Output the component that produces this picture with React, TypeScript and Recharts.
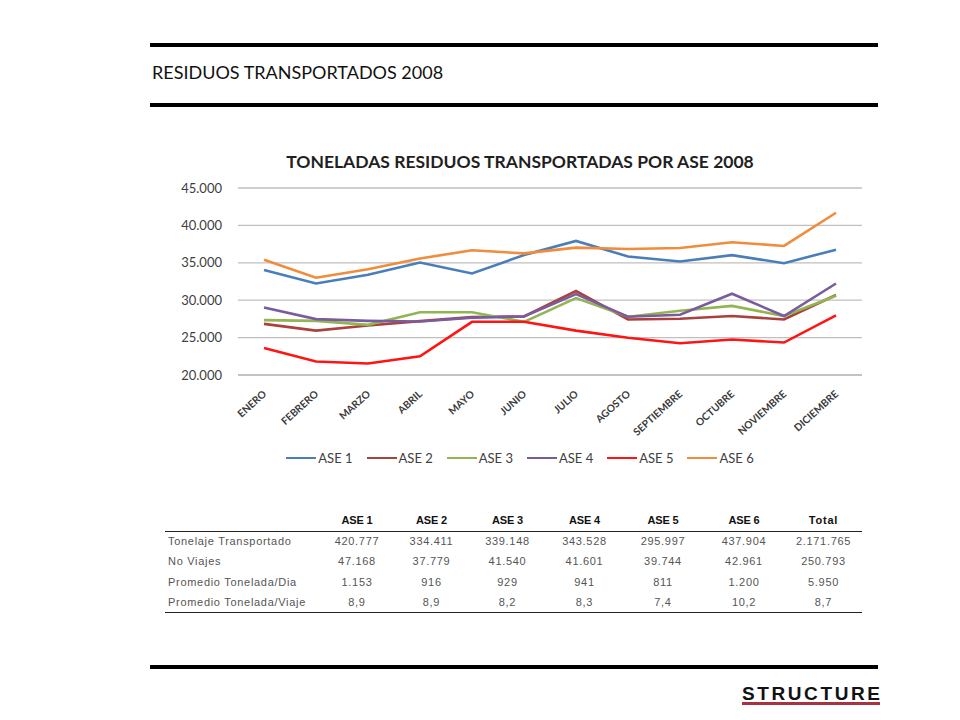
import React from "react";
import { LineChart, Line, XAxis, YAxis, CartesianGrid, Legend } from "recharts";

const MONTHS = ["ENERO", "FEBRERO", "MARZO", "ABRIL", "MAYO", "JUNIO", "JULIO", "AGOSTO", "SEPTIEMBRE", "OCTUBRE", "NOVIEMBRE", "DICIEMBRE"];

const ASE1 = [34040, 32230, 33400, 35030, 33580, 36030, 37930, 35850, 35170, 36030, 34940, 36760];
const ASE2 = [26840, 25930, 26610, 27200, 27740, 27830, 31230, 27420, 27510, 27880, 27420, 30690];
const ASE3 = [27330, 27240, 26700, 28380, 28380, 27110, 30280, 27790, 28600, 29240, 27880, 30600];
const ASE4 = [29010, 27470, 27240, 27150, 27650, 27830, 30820, 27790, 28060, 30870, 27880, 32230];
const ASE5 = [23620, 21810, 21540, 22490, 27110, 27110, 25930, 24980, 24250, 24750, 24340, 27970];
const ASE6 = [35400, 33000, 34130, 35580, 36670, 36260, 37030, 36850, 36980, 37750, 37250, 41690];

const SERIES = ["ASE 1", "ASE 2", "ASE 3", "ASE 4", "ASE 5", "ASE 6"];
const SERIES_VALUES = [ASE1, ASE2, ASE3, ASE4, ASE5, ASE6];
const COLORS = ["#4A7EBB", "#A9423F", "#92B552", "#7A5C9E", "#FF1414", "#F08C3C"];
const Y_TICKS = [20000, 25000, 30000, 35000, 40000, 45000];

const TABLE_HEAD = ["", "ASE 1", "ASE 2", "ASE 3", "ASE 4", "ASE 5", "ASE 6", "Total"];
const TABLE_ROWS = [
  ["Tonelaje Transportado", "420.777", "334.411", "339.148", "343.528", "295.997", "437.904", "2.171.765"],
  ["No Viajes", "47.168", "37.779", "41.540", "41.601", "39.744", "42.961", "250.793"],
  ["Promedio Tonelada/Dia", "1.153", "916", "929", "941", "811", "1.200", "5.950"],
  ["Promedio Tonelada/Viaje", "8,9", "8,9", "8,2", "8,3", "7,4", "10,2", "8,7"],
];
const COL_WIDTHS = [155, 74, 75, 77, 77, 80, 82, 77];

const data = MONTHS.map((m, i) => {
  const row: Record<string, any> = { month: m };
  SERIES.forEach((s, k) => { row[s] = SERIES_VALUES[k][i]; });
  return row;
});

const fmt = (v: number) => String(v).replace(/\B(?=(\d{3})+(?!\d))/g, ".");

const MonthTick = (props: any) => {
  const { x, y, payload } = props;
  return (
    <text
      x={x + 3} y={y + 12} textAnchor="end"
      transform={`rotate(-42, ${x + 3}, ${y + 12})`}
      fill="#3a3a3a" fontSize={10.2} fontFamily="Lato" fontWeight={700}
    >
      {payload.value}
    </text>
  );
};

const LegendBox = (props: any) => (
  <div style={{ display: "flex", justifyContent: "center", gap: 14, fontFamily: "Lato", fontSize: 13, color: "#404040" }}>
    {(props.payload || []).map((p: any) => (
      <div key={p.value} style={{ display: "flex", alignItems: "center" }}>
        <span style={{ display: "inline-block", width: 30, height: 2.5, background: p.color, marginRight: 2 }} />
        <span>{p.value}</span>
      </div>
    ))}
  </div>
);

const bar = (top: number, h: number) => (
  <div style={{ position: "absolute", left: 150, top, width: 728, height: h, background: "#000" }} />
);

export default function App() {
  return (
    <div style={{ position: "absolute", left: 0, top: 0, width: 960, height: 720, background: "#fff", fontFamily: "Lato", overflow: "hidden" }}>
      {bar(43, 4)}
      <div style={{ position: "absolute", left: 152, top: 63, fontSize: 18, lineHeight: 1, color: "#111" }}>
        RESIDUOS TRANSPORTADOS 2008
      </div>
      {bar(103, 4)}

      <div style={{ position: "absolute", left: 160, top: 152.5, width: 720, textAlign: "center", fontSize: 17.5, fontWeight: 700, lineHeight: 1, color: "#1f1f1f" }}>
        TONELADAS RESIDUOS TRANSPORTADAS POR ASE 2008
      </div>

      <div style={{ position: "absolute", left: 160, top: 130 }}>
        <LineChart width={720} height={345} data={data} margin={{ top: 58, right: 18, left: 0, bottom: 0 }}>
          <CartesianGrid vertical={false} stroke="#BFBFBF" strokeWidth={1.3} />
          <XAxis
            dataKey="month" interval={0} height={100}
            padding={{ left: 26, right: 26 }}
            axisLine={{ stroke: "#BFBFBF", strokeWidth: 1.3 }} tickLine={false}
            tick={<MonthTick />}
          />
          <YAxis
            width={78} domain={[20000, 45000]} ticks={Y_TICKS}
            axisLine={false} tickLine={false} tickMargin={10}
            tickFormatter={fmt}
            tick={{ fill: "#404040", fontSize: 13, fontFamily: "Lato" }}
          />
          <Legend
            verticalAlign="middle" layout="horizontal" align="center"
            wrapperStyle={{ top: 320, left: 0, width: 720 }}
            content={<LegendBox />}
          />
          {SERIES.map((s, k) => (
            <Line
              key={s} dataKey={s} stroke={COLORS[k]} strokeWidth={2.6}
              dot={false} activeDot={false} isAnimationActive={false}
            />
          ))}
        </LineChart>
      </div>

      <table style={{ position: "absolute", left: 165, top: 510, width: 697, borderCollapse: "collapse", fontFamily: "Liberation Sans", fontSize: 11 }}>
        <colgroup>
          {COL_WIDTHS.map((w, i) => <col key={i} style={{ width: w }} />)}
        </colgroup>
        <thead>
          <tr style={{ height: 21, borderBottom: "1px solid #222" }}>
            {TABLE_HEAD.map((h, i) => (
              <th key={i} style={{ padding: 0, fontWeight: 700, textAlign: "center", color: "#111", letterSpacing: h === "Total" ? 0.8 : -0.2 }}>{h}</th>
            ))}
          </tr>
        </thead>
        <tbody>
          {TABLE_ROWS.map((r, ri) => (
            <tr key={ri} style={{ height: 20.3, borderBottom: ri === TABLE_ROWS.length - 1 ? "1.5px solid #222" : "none" }}>
              {r.map((c, ci) => (
                <td key={ci} style={{ padding: 0, paddingLeft: ci === 0 ? 3 : 0, textAlign: ci === 0 ? "left" : "center", color: "#555", letterSpacing: 0.7, whiteSpace: "nowrap" }}>{c}</td>
              ))}
            </tr>
          ))}
        </tbody>
      </table>

      {bar(665, 4)}
      <div style={{ position: "absolute", left: 742, top: 684, fontFamily: "Liberation Sans", fontWeight: 700, fontSize: 19, lineHeight: 1, letterSpacing: 2.6, color: "#111", whiteSpace: "nowrap" }}>
        STRUCTURE
      </div>
      <div style={{ position: "absolute", left: 742, top: 702, width: 138, height: 3, background: "#A8323F" }} />
    </div>
  );
}
